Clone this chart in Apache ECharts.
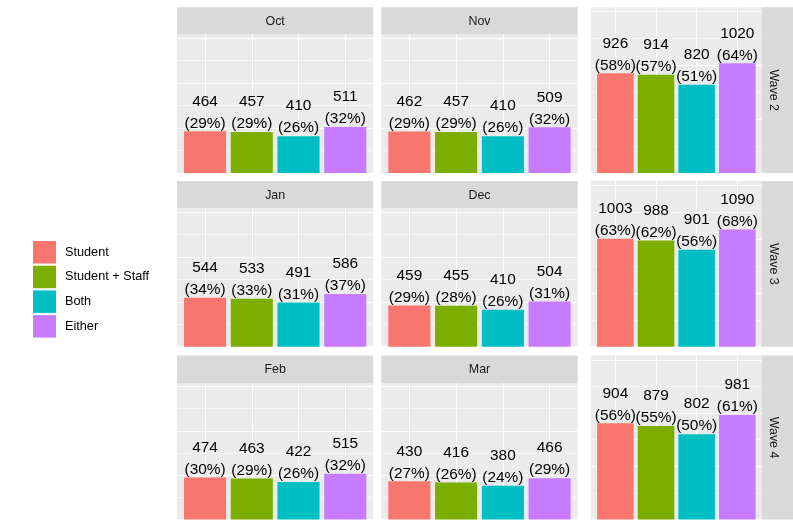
<!DOCTYPE html>
<html><head><meta charset="utf-8">
<script src="https://cdn.jsdelivr.net/npm/echarts@6/dist/echarts.min.js"></script>
<style>html,body{margin:0;padding:0;background:#fff}#c{width:793px;height:525px}</style>
</head><body><div id="c"></div>
<script>
// ---- data ----
const categories = ['Student', 'Student + Staff', 'Both', 'Either'];
const panelNames = ['Oct', 'Nov', 'Wave 2', 'Jan', 'Dec', 'Wave 3', 'Feb', 'Mar', 'Wave 4'];
const octCounts = [464, 457, 410, 511];     const octPct = [29, 29, 26, 32];
const novCounts = [462, 457, 410, 509];     const novPct = [29, 29, 26, 32];
const wave2Counts = [926, 914, 820, 1020];  const wave2Pct = [58, 57, 51, 64];
const janCounts = [544, 533, 491, 586];     const janPct = [34, 33, 31, 37];
const decCounts = [459, 455, 410, 504];     const decPct = [29, 28, 26, 31];
const wave3Counts = [1003, 988, 901, 1090]; const wave3Pct = [63, 62, 56, 68];
const febCounts = [474, 463, 422, 515];     const febPct = [30, 29, 26, 32];
const marCounts = [430, 416, 380, 466];     const marPct = [27, 26, 24, 29];
const wave4Counts = [904, 879, 802, 981];   const wave4Pct = [56, 55, 50, 61];

const panelCounts = [octCounts, novCounts, wave2Counts, janCounts, decCounts, wave3Counts, febCounts, marCounts, wave4Counts];
const panelPct = [octPct, novPct, wave2Pct, janPct, decPct, wave3Pct, febPct, marPct, wave4Pct];
const colors = ['#F8766D', '#7CAE00', '#00BFC4', '#C77CFF'];

// ---- layout ----
const colsX = [[177, 373.3], [381.3, 577.7], [591, 761.7]];
const rowsY = [[7.3, 173], [181, 346.7], [355.6, 519.5]];
const stripH = 27.3;
const FONT = 'Liberation Sans, Arial, sans-serif';

const grids = [], xAxes = [], yAxes = [], series = [], graphics = [];
panelNames.forEach((name, p) => {
  const r = Math.floor(p / 3), c = p % 3;
  const [x0, x1] = colsX[c];
  const [y0, y1] = rowsY[r];
  const isWave = c === 2;
  const top = isWave ? y0 : y0 + stripH;
  grids.push({left: x0, top: top, width: x1 - x0, height: y1 - top, show: true,
    backgroundColor: '#EBEBEB', borderWidth: 0, containLabel: false});
  xAxes.push({gridIndex: p, type: 'value', min: -0.6, max: 3.6,
    axisLine: {show: false}, axisLabel: {show: false},
    axisTick: {show: false, customValues: [0, 1, 2, 3]},
    splitLine: {show: true, lineStyle: {color: '#ffffff', width: 1}}});
  yAxes.push({gridIndex: p, type: 'value', min: 0, max: 1540, interval: 250,
    axisLine: {show: false}, axisLabel: {show: false}, axisTick: {show: false},
    splitLine: {show: true, showMaxLine: false, lineStyle: {color: ['#ffffff', '#f6f6f6'], width: 1}}});
  categories.forEach((cat, i) => {
    series.push({
      type: 'bar', name: cat, xAxisIndex: p, yAxisIndex: p,
      data: [[i, panelCounts[p][i]]],
      barWidth: '90%', barGap: '-100%',
      itemStyle: {color: colors[i]},
      label: {show: true, position: 'top', distance: -3,
        formatter: () => panelCounts[p][i] + '\n(' + panelPct[p][i] + '%)',
        fontSize: 15.4, lineHeight: 22, color: '#000', fontFamily: FONT},
      emphasis: {disabled: true}, silent: true
    });
  });
  if (isWave) {
    graphics.push({type: 'rect', shape: {x: x1, y: y0, width: 793 - x1, height: y1 - y0},
      style: {fill: '#D9D9D9'}, silent: true});
    graphics.push({type: 'text', x: 773, y: (y0 + y1) / 2, rotation: -Math.PI / 2,
      style: {text: name, align: 'center', verticalAlign: 'middle', fill: '#1A1A1A',
        fontSize: 12.4, fontFamily: FONT}, silent: true});
  } else {
    graphics.push({type: 'rect', shape: {x: x0, y: y0, width: x1 - x0, height: stripH},
      style: {fill: '#D9D9D9'}, silent: true});
    graphics.push({type: 'text', x: (x0 + x1) / 2, y: y0 + stripH / 2 + 0.5,
      style: {text: name, align: 'center', verticalAlign: 'middle', fill: '#1A1A1A',
        fontSize: 12.4, fontFamily: FONT}, silent: true});
  }
});

const chart = echarts.init(document.getElementById('c'), null, {renderer: 'canvas'});
chart.setOption({
  animation: false,
  backgroundColor: '#ffffff',
  grid: grids, xAxis: xAxes, yAxis: yAxes, series: series,
  legend: {data: categories, orient: 'vertical', left: 33, top: 241, padding: 0,
    itemWidth: 23, itemHeight: 22.5, itemGap: 2.2, icon: 'rect', selectedMode: false,
    textStyle: {fontSize: 12.7, color: '#000', fontFamily: FONT, padding: [0, 0, 0, 4]}},
  graphic: graphics
});
</script></body></html>
